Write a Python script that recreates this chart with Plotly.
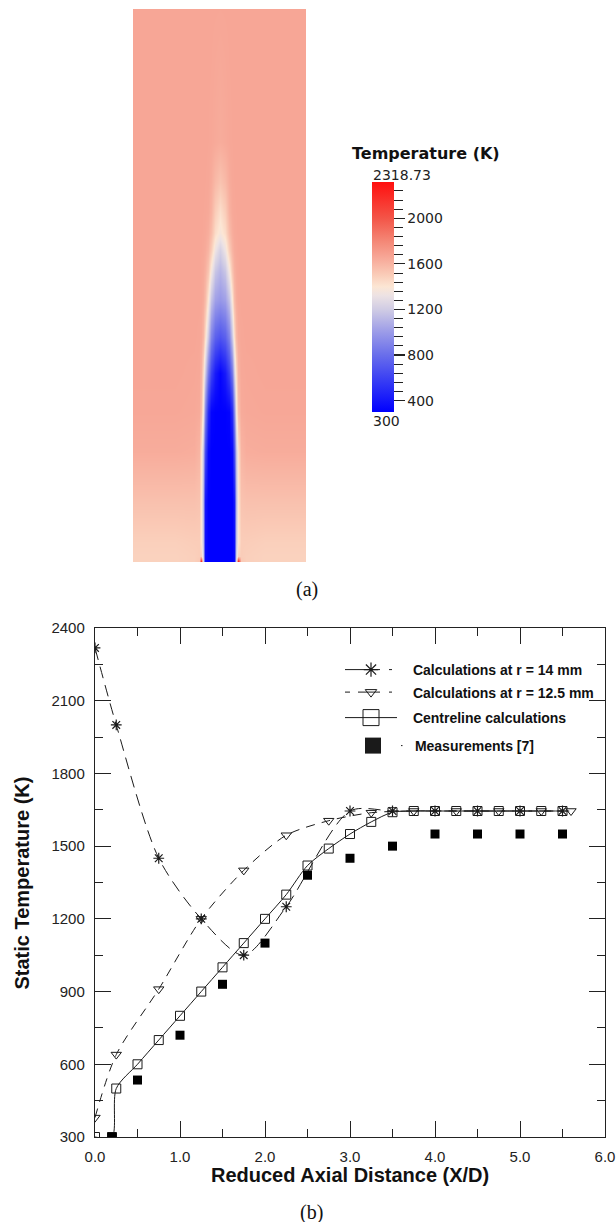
import plotly.graph_objects as go

W, H = 616, 1222

# ---------------- panel (b): axial temperature profiles ----------------
x_r14 = [0.0, 0.25, 0.75, 1.25, 1.75, 2.25, 3.0, 3.5, 4.0, 4.5, 5.0, 5.5]
T_r14 = [2318, 2000, 1450, 1200, 1050, 1250, 1645, 1645, 1645, 1645, 1645, 1645]

x_r125 = [0.0, 0.25, 0.75, 1.25, 1.75, 2.25, 2.75, 3.25, 3.75, 4.25, 4.75, 5.25, 5.6]
T_r125 = [380, 640, 910, 1200, 1400, 1545, 1605, 1638, 1645, 1645, 1645, 1645, 1645]

x_cl = [0.0, 0.2, 0.25, 0.5, 0.75, 1.0, 1.25, 1.5, 1.75, 2.0, 2.25, 2.5, 2.75,
        3.0, 3.25, 3.5, 3.75, 4.0, 4.25, 4.5, 4.75, 5.0, 5.25, 5.5]
T_cl = [300, 300, 500, 600, 700, 800, 900, 1000, 1100, 1200, 1300, 1420, 1490,
        1550, 1600, 1640, 1645, 1645, 1645, 1645, 1645, 1645, 1645, 1645]

x_meas = [0.2, 0.5, 1.0, 1.5, 2.0, 2.5, 3.0, 3.5, 4.0, 4.5, 5.0, 5.5]
T_meas = [300, 535, 720, 930, 1100, 1380, 1450, 1500, 1550, 1550, 1550, 1550]

x_ticks = [0, 1, 2, 3, 4, 5, 6]
x_ticklabels = ["0.0", "1.0", "2.0", "3.0", "4.0", "5.0", "6.0"]
y_ticks = [300, 600, 900, 1200, 1500, 1800, 2100, 2400]

names = ["Calculations at r = 14 mm", "Calculations at r = 12.5 mm",
         "Centreline calculations", "Measurements [7]"]

# ---------------- panel (a): temperature field (estimated, half profile) ----------------
r_half = [0, 5, 9, 12, 14.5, 16.5, 18.5, 21, 26, 45, 86.5]
axial = [0, 6, 20, 60, 110, 150, 189, 225, 262, 290, 312, 329, 350, 380, 420, 553]
T_half = [
    [300, 300, 300, 300, 330, 1250, 2300, 1520, 1490, 1480, 1480],
    [300, 300, 300, 300, 340, 1200, 1480, 1500, 1490, 1480, 1480],
    [300, 300, 300, 300, 360, 1150, 1400, 1500, 1500, 1490, 1490],
    [300, 300, 300, 300, 400, 1100, 1400, 1540, 1550, 1550, 1550],
    [300, 300, 300, 340, 650, 1150, 1420, 1600, 1630, 1635, 1635],
    [300, 300, 320, 500, 900, 1350, 1560, 1640, 1650, 1655, 1655],
    [320, 420, 600, 850, 1200, 1450, 1610, 1650, 1655, 1660, 1660],
    [680, 740, 900, 1180, 1430, 1590, 1645, 1655, 1660, 1660, 1660],
    [980, 1020, 1160, 1390, 1570, 1635, 1655, 1660, 1660, 1660, 1660],
    [1100, 1170, 1350, 1530, 1615, 1645, 1657, 1660, 1660, 1660, 1660],
    [1220, 1330, 1500, 1600, 1640, 1652, 1658, 1660, 1660, 1660, 1660],
    [1370, 1440, 1570, 1630, 1650, 1656, 1660, 1660, 1660, 1660, 1660],
    [1430, 1500, 1610, 1648, 1656, 1658, 1660, 1660, 1660, 1660, 1660],
    [1540, 1580, 1635, 1655, 1658, 1660, 1660, 1660, 1660, 1660, 1660],
    [1635, 1645, 1655, 1658, 1660, 1660, 1660, 1660, 1660, 1660, 1660],
    [1658, 1659, 1660, 1660, 1660, 1660, 1660, 1660, 1660, 1660, 1660],
]
T_min, T_max = 300, 2318.73
cbar_major = [400, 800, 1200, 1600, 2000]
cbar_minor = [480, 560, 640, 720, 880, 960, 1040, 1120, 1280, 1360, 1440, 1520,
              1680, 1760, 1840, 1920, 2080, 2160, 2240]
cmap_T = [300, 550, 800, 1000, 1200, 1320, 1400, 1500, 1660, 1800, 2000, 2318.73]
cmap_rgb = [(0, 0, 255), (50, 55, 245), (105, 110, 235), (155, 155, 232),
            (208, 204, 228), (236, 226, 228), (252, 230, 212), (250, 205, 185),
            (247, 166, 150), (244, 135, 118), (243, 85, 72), (255, 15, 15)]

# ---------------- build ----------------
def px(x):
    return x / W


def py(y):
    return 1 - y / H


colorscale = [[(t - T_min) / (T_max - T_min), "rgb(%d,%d,%d)" % c]
              for t, c in zip(cmap_T, cmap_rgb)]

r_full = [-v for v in r_half[:0:-1]] + r_half
z_full = [row[:0:-1] + row for row in T_half]

INK = "#1a1a1a"
fig = go.Figure()

fig.add_trace(go.Heatmap(x=r_full, y=axial, z=z_full, coloraxis="coloraxis",
                         zsmooth="best", hoverinfo="skip", xaxis="x", yaxis="y"))
# extra colorbars (inner major ticks, minor ticks)
fig.add_trace(go.Scatter(x=[None], y=[None], mode="markers", showlegend=False,
                         marker=dict(color=[T_min], coloraxis="coloraxis2"),
                         xaxis="x", yaxis="y", hoverinfo="skip"))
fig.add_trace(go.Scatter(x=[None], y=[None], mode="markers", showlegend=False,
                         marker=dict(color=[T_min], coloraxis="coloraxis3"),
                         xaxis="x", yaxis="y", hoverinfo="skip"))

# data curves
fig.add_trace(go.Scatter(x=x_cl, y=T_cl, mode="lines+markers", showlegend=False,
                         line=dict(color=INK, width=1, shape="spline", smoothing=0.8),
                         marker=dict(symbol="square-open", size=9, color=INK, line=dict(width=1)),
                         xaxis="x2", yaxis="y2"))
fig.add_trace(go.Scatter(x=x_r125, y=T_r125, mode="lines+markers", showlegend=False,
                         line=dict(color=INK, width=1, dash="9px,7px", shape="spline", smoothing=0.8),
                         marker=dict(symbol="triangle-down-open", size=9, color=INK, line=dict(width=1)),
                         xaxis="x2", yaxis="y2"))
fig.add_trace(go.Scatter(x=x_r14, y=T_r14, mode="lines+markers", showlegend=False,
                         line=dict(color=INK, width=1, dash="12px,7px", shape="spline", smoothing=0.8),
                         marker=dict(symbol="asterisk-open", size=9, color=INK, line=dict(width=1.2)),
                         xaxis="x2", yaxis="y2"))
fig.add_trace(go.Scatter(x=x_meas, y=T_meas, mode="markers", showlegend=False,
                         marker=dict(symbol="square", size=9, color="black", line=dict(width=0)),
                         xaxis="x2", yaxis="y2"))

# legend entries
leg_specs = [
    ("legend", "asterisk-open", 12, "0px,7px,35px,9px,3px,60px", 1.2),
    ("legend2", "triangle-down-open", 10, "0px,7px,5px,8px,22px,9px,3px,60px", 1),
    ("legend3", "square-open", 16, "0px,7px,52px,60px", 1),
    ("legend4", "square", 16, "0px,61px,1.5px,60px", 0),
]
for name, (lg, sym, sz, dash, lw) in zip(names, leg_specs):
    fig.add_trace(go.Scatter(x=[None], y=[None], mode="lines+markers", name="\u00a0" + name,
                             legend=lg, line=dict(color=INK, width=1, dash=dash),
                             marker=dict(symbol=sym, size=sz, color=INK, line=dict(width=lw, color=INK)),
                             xaxis="x2", yaxis="y2"))

leg_font = dict(family="Liberation Sans, Arial, sans-serif", size=14, color="#111", weight="bold")
leg_common = dict(xanchor="left", yanchor="middle", bgcolor="rgba(0,0,0,0)",
                  borderwidth=0, font=leg_font, itemwidth=66)
leg_pos = {"legend": (333, 670), "legend2": (333, 692.5), "legend3": (333, 718), "legend4": (335, 746)}

cb_common = dict(x=px(372), xanchor="left", xpad=0, y=py(182), yanchor="top", ypad=0,
                 len=230, lenmode="pixels", thickness=22, thicknessmode="pixels",
                 outlinewidth=0, tickcolor="#222", tickmode="array")
ca_common = dict(colorscale=colorscale, cmin=T_min, cmax=T_max, showscale=True)

tick_font = dict(family="Liberation Sans, Arial, sans-serif", size=15, color="#222")
axis_common = dict(showline=True, linecolor="#222", linewidth=1.2, mirror="ticks",
                   ticks="inside", ticklen=16, tickwidth=1, tickcolor="#222",
                   showgrid=False, zeroline=False, tickfont=tick_font,
                   ticklabelstandoff=6, automargin=False)

layout = dict(
    width=W, height=H, margin=dict(l=0, r=0, t=0, b=0, pad=0, autoexpand=False),
    paper_bgcolor="white", plot_bgcolor="white", showlegend=True,
    xaxis=dict(domain=[px(133), px(306)], range=[-86.5, 86.5], visible=False, anchor="y"),
    yaxis=dict(domain=[py(562), py(9)], range=[0, 553], visible=False, anchor="x"),
    xaxis2=dict(domain=[px(95), px(605)], range=[0, 6], anchor="y2",
                tickvals=x_ticks, ticktext=x_ticklabels,
                minor=dict(dtick=0.5, tick0=0, ticks="inside", ticklen=8, tickcolor="#222"),
                **axis_common),
    yaxis2=dict(domain=[py(1137), py(628)], range=[300, 2400], anchor="x2",
                tickvals=y_ticks,
                minor=dict(dtick=150, tick0=0, ticks="inside", ticklen=8, tickcolor="#222"),
                **axis_common),
    coloraxis=dict(colorbar=dict(tickvals=cbar_major, ticktext=[str(v) for v in cbar_major],
                                 ticks="outside", ticklen=11, tickwidth=1.2,
                                 tickfont=dict(family="DejaVu Sans", size=14, color="#222"),
                                 **cb_common), **ca_common),
    coloraxis2=dict(colorbar=dict(tickvals=cbar_major, ticks="inside", ticklen=11, tickwidth=1.2,
                                  showticklabels=False, **cb_common), **ca_common),
    coloraxis3=dict(colorbar=dict(tickvals=cbar_minor, ticks="outside", ticklen=9, tickwidth=1,
                                  showticklabels=False, **cb_common), **ca_common),
)
for lg, (lx, ly) in leg_pos.items():
    layout[lg] = dict(x=px(lx), y=py(ly), **leg_common)

fig.update_layout(**layout)

ann = [
    dict(text="<b>Temperature (K)</b>", x=px(350), y=py(153), xanchor="left", yanchor="middle",
         font=dict(family="DejaVu Sans", size=16, color="#111")),
    dict(text="%.2f" % T_max, x=px(371), y=py(175), xanchor="left", yanchor="middle",
         font=dict(family="DejaVu Sans", size=14, color="#222")),
    dict(text="%d" % T_min, x=px(371), y=py(421), xanchor="left", yanchor="middle",
         font=dict(family="DejaVu Sans", size=14, color="#222")),
    dict(text="(a)", x=px(307), y=py(589), xanchor="center", yanchor="middle",
         font=dict(family="Liberation Serif, Times New Roman, serif", size=20, color="#111")),
    dict(text="(b)", x=px(311), y=py(1212), xanchor="center", yanchor="middle",
         font=dict(family="Liberation Serif, Times New Roman, serif", size=20, color="#111")),
    dict(text="<b>Static Temperature (K)</b>", x=px(21.6), y=py(883), textangle=-90,
         xanchor="center", yanchor="middle",
         font=dict(family="Liberation Sans, Arial, sans-serif", size=20, color="#111")),
    dict(text="<b>Reduced Axial Distance (X/D)</b>", x=px(350), y=py(1175),
         xanchor="center", yanchor="middle",
         font=dict(family="Liberation Sans, Arial, sans-serif", size=20, color="#111")),
]
for a in ann:
    a.update(xref="paper", yref="paper", showarrow=False)
fig.update_layout(annotations=ann)

fig.write_html("out.html", config={"displayModeBar": False, "staticPlot": True},
               post_script="document.body.style.margin='0';document.body.style.overflow='hidden';")
